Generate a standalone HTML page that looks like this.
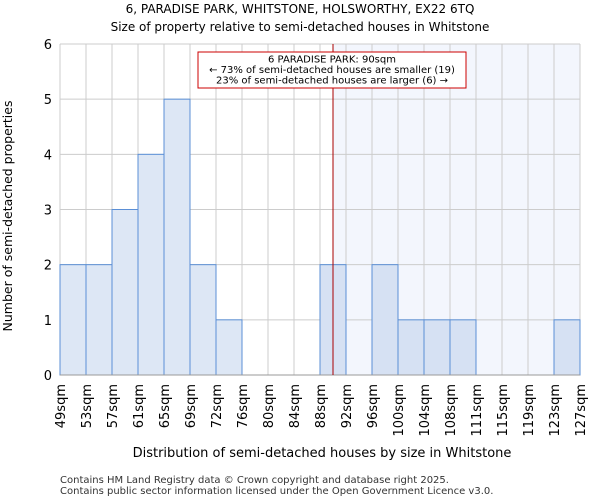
<!DOCTYPE html>
<html><head><meta charset="utf-8"><style>
body{margin:0;background:#fff;font-family:"DejaVu Sans","Liberation Sans",sans-serif}
</style></head><body>
<svg id="chart" width="600" height="500" xmlns="http://www.w3.org/2000/svg" font-family="DejaVu Sans, Liberation Sans, sans-serif">
<text x="300" y="13" text-anchor="middle" font-size="12">6, PARADISE PARK, WHITSTONE, HOLSWORTHY, EX22 6TQ</text>
<text x="300" y="31" text-anchor="middle" font-size="12">Size of property relative to semi-detached houses in Whitstone</text>
<g id="grid"></g><g id="bars"></g><g id="axes"></g>
<text x="322" y="457" text-anchor="middle" font-size="13">Distribution of semi-detached houses by size in Whitstone</text>
<text transform="translate(12,216) rotate(-90)" text-anchor="middle" font-size="12.5">Number of semi-detached properties</text>
<text x="60" y="483" font-size="10" fill="#333">Contains HM Land Registry data © Crown copyright and database right 2025.</text>
<text x="60" y="494" font-size="10" fill="#333">Contains public sector information licensed under the Open Government Licence v3.0.</text>
</svg>
<script>
const binLabels=["49sqm","53sqm","57sqm","61sqm","65sqm","69sqm","72sqm","76sqm","80sqm","84sqm","88sqm","92sqm","96sqm","100sqm","104sqm","108sqm","111sqm","115sqm","119sqm","123sqm","127sqm"];
const counts=[2,2,3,4,5,2,1,0,0,0,2,0,2,1,1,1,0,0,0,1];
const yTicks=[0,1,2,3,4,5,6];
const propertyBin=10.5;
const NS="http://www.w3.org/2000/svg";
const X0=60,X1=580,Y0=375,Y1=44,YMAX=6;
const bw=(X1-X0)/counts.length;
const xs=i=>X0+i*bw, ys=v=>Y0-(Y0-Y1)*v/YMAX;
function mk(t,a,p){const e=document.createElementNS(NS,t);for(const k in a)e.setAttribute(k,a[k]);p.appendChild(e);return e;}
const g=document.getElementById('grid'),b=document.getElementById('bars'),ax=document.getElementById('axes');
const px=xs(propertyBin);
const sh=mk('rect',{x:px,y:Y1,width:X1-px,height:Y0-Y1,fill:'#f3f6fd'},g);


for(let i=0;i<=counts.length;i++){const l=mk('line',{x1:xs(i),x2:xs(i),y1:Y1,y2:Y0,stroke:'#cccccc'},g);

}
yTicks.forEach(v=>{const l=mk('line',{x1:X0,x2:X1,y1:ys(v),y2:ys(v),stroke:'#cccccc'},g);


const t=mk('text',{x:X0-8,y:ys(v)+5,'text-anchor':'end','font-size':'13'},ax);t.textContent=v;

});
counts.forEach((c,i)=>{if(!c)return;const r=mk('rect',{x:xs(i),y:ys(c),width:bw,height:Y0-ys(c),fill:xs(i)>=px-bw/2?'#d6e1f3':'#dde7f5',stroke:'#5b8fd6','stroke-width':1},b);

});
const xl=mk('line',{x1:X0,x2:X1,y1:Y0,y2:Y0,stroke:'#999'},ax);


binLabels.forEach((s,i)=>{const x=xs(i);const t=mk('text',{transform:`translate(${x+5},384) rotate(-90)`,'text-anchor':'end','font-size':'13'},ax);t.textContent=s;

});
const pl=mk('line',{x1:px,x2:px,y1:Y1,y2:Y0,stroke:'#aa0000','stroke-width':1},ax);


const box=mk('rect',{x:198,y:52,width:268,height:36,fill:'#fff',stroke:'#cc0000'},ax);


["6 PARADISE PARK: 90sqm","← 73% of semi-detached houses are smaller (19)","23% of semi-detached houses are larger (6) →"].forEach((s,i)=>{const t=mk('text',{x:332,y:62.5+i*10.5,'text-anchor':'middle','font-size':'10'},ax);t.textContent=s;

});
</script>
</body></html>
